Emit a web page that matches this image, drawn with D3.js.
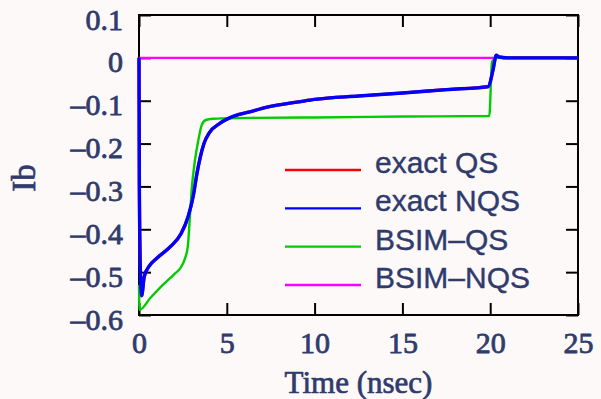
<!DOCTYPE html>
<html>
<head>
<meta charset="utf-8">
<script src="https://cdn.jsdelivr.net/npm/d3@7"></script>
<style>
  html, body { margin: 0; padding: 0; background: #fdf9f9; }
  svg { display: block; }
</style>
</head>
<body>
<svg id="chart" width="601" height="399"></svg>
<script>
// Body current Ib versus time for the four models
const xTicks = [0, 5, 10, 15, 20, 25];
const yTicks = [0.1, 0, -0.1, -0.2, -0.3, -0.4, -0.5, -0.6];
const yTickLabels = ["0.1", "0", "–0.1", "–0.2", "–0.3", "–0.4", "–0.5", "–0.6"];

const seriesNames = ["exact QS", "exact NQS", "BSIM–QS", "BSIM–NQS"];
const seriesColors = ["#ff0000", "#0000ff", "#00cc00", "#ff00ff"];

// [time (nsec), Ib]
const exactQS = [
  [0, 0], [0.02, -0.3], [0.08, -0.5], [0.15, -0.555], [0.3, -0.51], [0.6, -0.485],
  [1.0, -0.468], [1.8, -0.44], [2.4, -0.41], [2.8, -0.37], [3.1, -0.32], [3.3, -0.27],
  [3.5, -0.23], [3.7, -0.2], [4.0, -0.175], [4.6, -0.153], [5.4, -0.136], [6.3, -0.126],
  [7.3, -0.115], [9.2, -0.102], [10, -0.097], [12.5, -0.089], [15, -0.082], [17.5, -0.074],
  [19.9, -0.067], [20.15, -0.03], [20.35, 0.006], [20.5, 0.002], [21, 0], [25, 0]
];
const exactNQS = [
  [0, 0], [0.02, -0.3], [0.08, -0.5], [0.15, -0.555], [0.3, -0.51], [0.6, -0.485],
  [1.0, -0.468], [1.8, -0.44], [2.4, -0.41], [2.8, -0.37], [3.1, -0.32], [3.3, -0.27],
  [3.5, -0.23], [3.7, -0.2], [4.0, -0.175], [4.6, -0.153], [5.4, -0.136], [6.3, -0.126],
  [7.3, -0.115], [9.2, -0.102], [10, -0.097], [12.5, -0.089], [15, -0.082], [17.5, -0.074],
  [19.9, -0.067], [20.15, -0.03], [20.35, 0.006], [20.5, 0.002], [21, 0], [25, 0]
];
const bsimQS = [
  [0, -0.53], [0.03, -0.588], [0.63, -0.561], [1.3, -0.532], [2.0, -0.505], [2.4, -0.488],
  [2.62, -0.468], [2.78, -0.44], [2.9, -0.37], [3.0, -0.308], [3.19, -0.238], [3.38, -0.192],
  [3.57, -0.157], [3.8, -0.145], [4.2, -0.142], [5.0, -0.141], [6.3, -0.14], [10, -0.139],
  [15, -0.137], [19.95, -0.1355], [20.1, -0.01], [20.3, 0], [25, 0]
];
const bsimNQS = [
  [0, 0], [25, 0]
];

const svg = d3.select("#chart");
const textColor = "#303b6c";
const serif = "'Liberation Serif', 'Times New Roman', serif";
const sans = "'Liberation Sans', Arial, sans-serif";

// Slightly heavier glyphs for all labels
function heavy(sel, w) {
  sel.style("stroke", textColor).style("stroke-width", w + "px")
     .style("stroke-linejoin", "round");
}

const x = d3.scaleLinear().domain([0, 25]).range([139, 578]);
const y = d3.scaleLinear().domain([-0.6, 0.1]).range([315, 15]);

// Axes with inward ticks on all four sides
function styleAxis(g) {
  g.attr("font-family", null).attr("font-size", null);
  g.select(".domain").remove();
  g.selectAll(".tick line").attr("stroke", "#000").attr("stroke-width", 2);
  g.selectAll(".tick text")
    .style("fill", textColor)
    .style("font-family", serif)
    .style("font-size", "30px")
    .call(heavy, 0.8);
}

svg.append("g")
  .attr("transform", `translate(0,${y(-0.6)})`)
  .call(d3.axisBottom(x).tickValues(xTicks).tickSize(-12).tickFormat(d3.format("d")))
  .call(styleAxis)
  .call(g => g.selectAll(".tick text").attr("y", 38).attr("dy", 0));

svg.append("g")
  .attr("transform", `translate(0,${y(0.1)})`)
  .call(d3.axisTop(x).tickValues(xTicks).tickSize(-12).tickFormat(""))
  .call(styleAxis);

svg.append("g")
  .attr("transform", `translate(${x(0)},0)`)
  .call(d3.axisLeft(y).tickValues(yTicks).tickSize(-12)
    .tickFormat((d, i) => yTickLabels[i]))
  .call(styleAxis)
  .call(g => g.selectAll(".tick text").attr("x", -16).attr("dy", 14));

svg.append("g")
  .attr("transform", `translate(${x(25)},0)`)
  .call(d3.axisRight(y).tickValues(yTicks).tickSize(-12).tickFormat(""))
  .call(styleAxis);

// Frame
svg.append("rect")
  .attr("x", x(0)).attr("y", y(0.1))
  .attr("width", x(25) - x(0)).attr("height", y(-0.6) - y(0.1))
  .attr("fill", "none").attr("stroke", "#000").attr("stroke-width", 2);

// Curves, on top of ticks and frame
const lineGen = d3.line().x(d => x(d[0])).y(d => y(d[1])).curve(d3.curveMonotoneX);

const plotted = [
  { data: bsimNQS, color: seriesColors[3], w: 2.4 },
  { data: exactQS, color: seriesColors[0], w: 3.2 },
  { data: bsimQS, color: seriesColors[2], w: 2.4 },
  { data: exactNQS, color: seriesColors[1], w: 3.4 }
];
svg.append("g").selectAll("path").data(plotted).join("path")
  .attr("d", d => lineGen(d.data))
  .attr("fill", "none")
  .attr("stroke", d => d.color)
  .attr("stroke-width", d => d.w)
  .attr("stroke-linejoin", "round");

// Axis titles
svg.append("text")
  .attr("x", (x(0) + x(25)) / 2).attr("y", 393)
  .attr("text-anchor", "middle")
  .style("fill", textColor)
  .style("font-family", serif)
  .style("font-size", "31px")
  .call(heavy, 0.7)
  .text("Time (nsec)");

svg.append("text")
  .attr("transform", "translate(35,178) rotate(-90)")
  .attr("text-anchor", "middle")
  .style("fill", textColor)
  .style("font-family", serif)
  .style("font-size", "33px")
  .call(heavy, 0.7)
  .text("Ib");

// Legend
const legendY = d3.scaleLinear().domain([0, 3]).range([170, 285]);
const legend = svg.append("g");
seriesNames.forEach((name, i) => {
  legend.append("line")
    .attr("x1", 285).attr("x2", 361)
    .attr("y1", legendY(i)).attr("y2", legendY(i))
    .attr("stroke", seriesColors[i]).attr("stroke-width", 2.4);
  legend.append("text")
    .attr("x", 375).attr("y", legendY(i) + 3)
    .style("fill", textColor)
    .style("font-family", sans)
    .style("font-size", "30px")
    .call(heavy, 0.4)
    .text(name);
});
</script>
</body>
</html>
